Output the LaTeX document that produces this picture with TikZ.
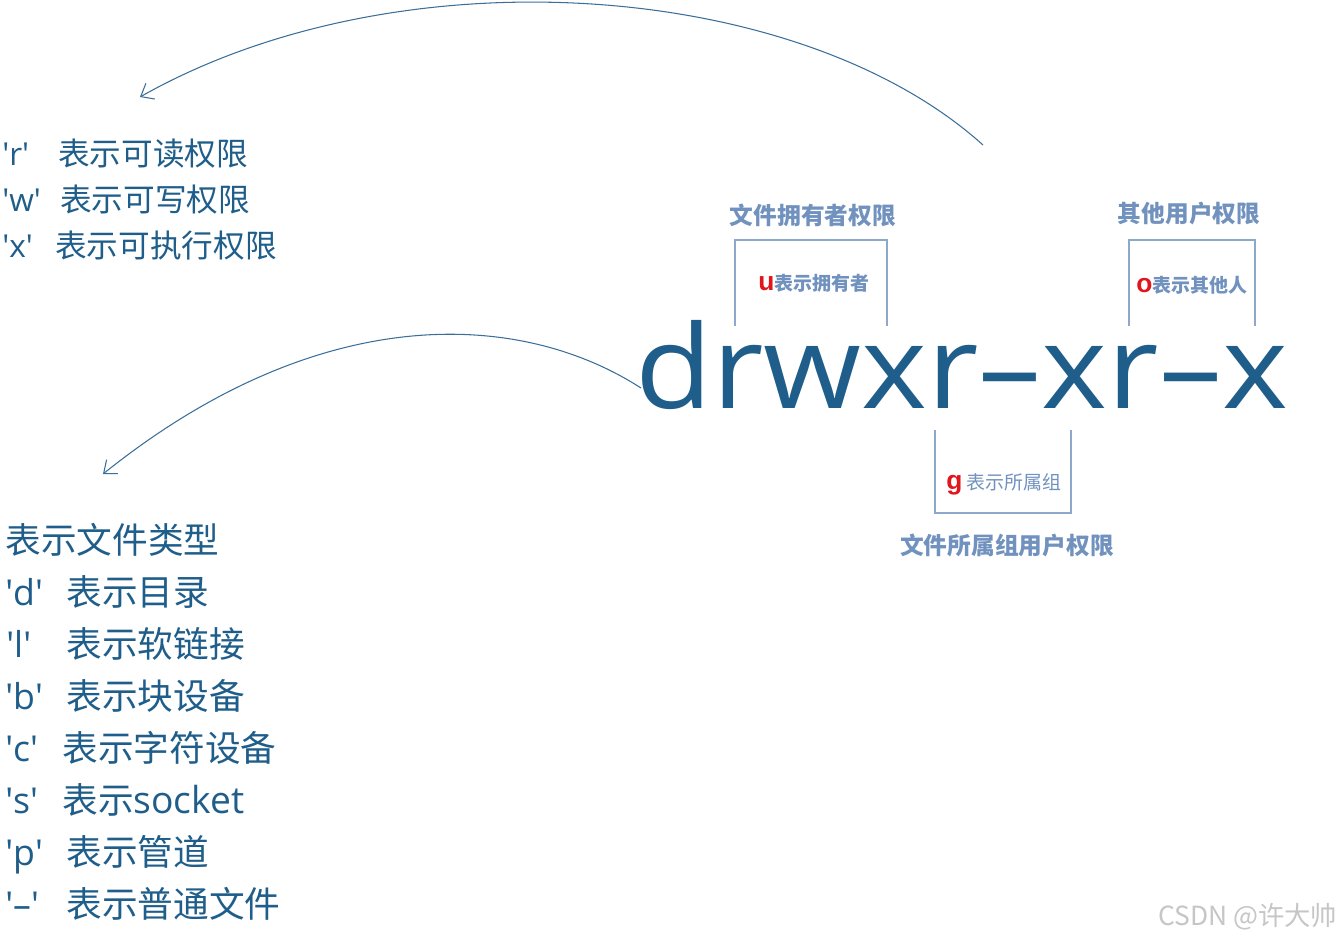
\documentclass[tikz,border=0pt]{standalone}
\usepackage{graphicx}
\usepackage{fontspec}
\setmainfont{Open Sans}
\newfontfamily\cjk{Noto Sans CJK SC}
\newfontfamily\latn{Open Sans}
\newfontfamily\redfont{Liberation Sans Bold}
\usetikzlibrary{arrows.meta,positioning}
\definecolor{lslDark}{HTML}{1F5E8A}
\definecolor{lslSoft}{HTML}{7192BE}
\definecolor{lslLine}{HTML}{8DA8CB}
\definecolor{lslRed}{HTML}{E2141C}
\definecolor{lslCurve}{HTML}{3B6F99}
\definecolor{lslMark}{HTML}{C6C6C6}
\newcommand{\qt}[1]{\textquotesingle#1\textquotesingle}
\newcommand{\redch}[1]{{\redfont\fontsize{15}{16}\selectfont\textcolor{lslRed}{#1}}}
\tikzset{
  lslbase/.style={anchor=base west,inner sep=0pt,text=lslDark},
  topkey/.style={lslbase,font=\fontsize{18}{22}\selectfont},
  topdesc/.style={lslbase,font=\cjk\fontsize{18}{22}\selectfont},
  listkey/.style={lslbase,font=\fontsize{20.3}{24}\selectfont},
  listdesc/.style={lslbase,font=\cjk\fontsize{20.3}{24}\selectfont},
  grplabel/.style={anchor=base,inner sep=0pt,text=lslSoft,
                   font=\cjk\bfseries\fontsize{13.5}{16}\selectfont},
  sublabel/.style={anchor=base west,inner sep=0pt,text=lslSoft,
                   font=\cjk\bfseries\fontsize{10.8}{13}\selectfont},
  bracket/.style={draw=lslLine,line width=0.85pt},
  lslarrow/.style={-{Straight Barb[length=2.2mm,width=3.6mm]},
                   draw=lslCurve,line width=0.6pt}
}

\begin{document}
\begin{tikzpicture}[x=0.02cm,y=-0.02cm]
    \useasboundingbox[fill=white] (0,0) rectangle (1342,938);

    % permission string
    \node[lslbase,font=\fontsize{66}{70}\selectfont] (perm) at (635,408)
      {\scalebox{1.085}[1]{drwxr--xr--x}};

    % read / write / execute
    \node[topkey] (kr) at (2,165) {\qt{r}};
    \node[topdesc] (tr) at (58,165) {表示可读权限};
    \node[topkey] (kw) at (2,211) {\qt{w}};
    \node[topdesc] (tw) at (60,211) {表示可写权限};
    \node[topkey] (kx) at (2,257) {\qt{x}};
    \node[topdesc] (tx) at (55,257) {表示可执行权限};

    % file types
    \node[listdesc] (ttype) at (5,553) {表示文件类型};
    \node[listkey] (kd) at (5,605) {\qt{d}};
    \node[listdesc] (td) at (66,605) {表示目录};
    \node[listkey] (kl) at (6,657) {\qt{l}};
    \node[listdesc] (tl) at (66,657) {表示软链接};
    \node[listkey] (kb) at (5,709) {\qt{b}};
    \node[listdesc] (tb) at (66,709) {表示块设备};
    \node[listkey] (kc) at (5,761) {\qt{c}};
    \node[listdesc] (tc) at (62,761) {表示字符设备};
    \node[listkey] (ks) at (5,813) {\qt{s}};
    \node[listdesc] (ts) at (62,813)
      {表示{\latn\fontsize{21.2}{24}\selectfont socket}};
    \node[listkey] (kp) at (5,865) {\qt{p}};
    \node[listdesc] (tp) at (66,865) {表示管道};
    \node[listkey] (kn) at (5,917) {\qt{--}};
    \node[listdesc] (tn) at (66,917) {表示普通文件};

    % owner / group / others
    \node[grplabel] (lowner) at (813,224) {文件拥有者权限};
    \node[grplabel] (lother) at (1189,222) {其他用户权限};
    \node[grplabel] (lgroup) at (1007,554) {文件所属组用户权限};
    \node[sublabel] (sowner) at (758,290) {\redch{u}表示拥有者};
    \node[sublabel] (sother) at (1136,292) {\redch{o}表示其他人};
    \node[sublabel,font=\cjk\fontsize{10.8}{13}\selectfont] (sgroup) at (946,489)
      {\redch{g} 表示所属组};
    \draw[bracket] (735,326) -- (735,240) -- (887,240) -- (887,326);
    \draw[bracket] (1129,326) -- (1129,240) -- (1255,240) -- (1255,326);
    \draw[bracket] (935,430) -- (935,513) -- (1071,513) -- (1071,430);

    % arrows to the legends
    \coordinate (upstart) at (983,145);
    \coordinate (uptip) at (140,97);
    \coordinate (lowstart) at (641,388);
    \coordinate (lowtip) at (103,474);
    \draw[lslarrow] (upstart) .. controls (800,-20) and (400,-50) .. (uptip);
    \draw[lslarrow] (lowstart) .. controls (520,310) and (320,300) .. (lowtip);

    \node[anchor=base west,inner sep=0pt,text=lslMark,
          font=\cjk\fontsize{15}{16}\selectfont] (mark) at (1158,925)
      {CSDN @许大帅};
  \end{tikzpicture}
\end{document}
